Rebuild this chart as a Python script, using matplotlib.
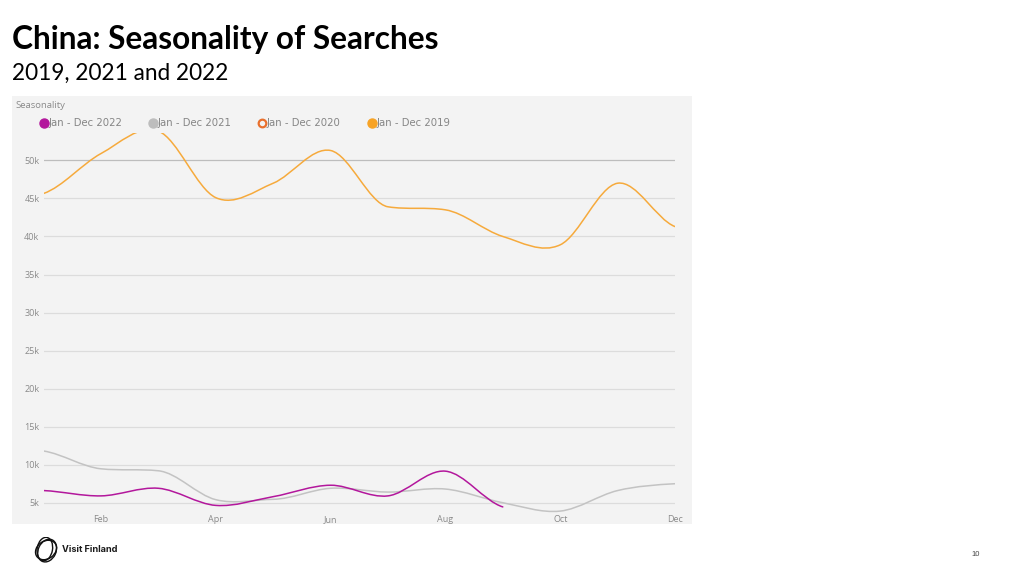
import matplotlib
matplotlib.use("Agg")
import matplotlib.pyplot as plt
from matplotlib.path import Path
from matplotlib.patches import PathPatch, Rectangle, Ellipse
from matplotlib.lines import Line2D

# ---------------- data ----------------
months = ["Jan", "Feb", "Mar", "Apr", "May", "Jun", "Jul", "Aug", "Sep", "Oct", "Nov", "Dec"]
x_tick_labels = ["Feb", "Apr", "Jun", "Aug", "Oct", "Dec"]
y_ticks = [5000, 10000, 15000, 20000, 25000, 30000, 35000, 40000, 45000, 50000]
y_tick_labels = ["5k", "10k", "15k", "20k", "25k", "30k", "35k", "40k", "45k", "50k"]

searches_2022 = [6600, 5900, 6900, 4650, 5800, 7300, 5900, 9150, 4450]
searches_2021 = [11800, 9460, 9200, 5400, 5450, 6900, 6400, 6800, 5000, 3900, 6600, 7500]
searches_2019 = [45650, 50900, 53850, 45100, 47000, 51300, 43900, 43500, 40000, 38900, 47000, 41300]

legend_labels = ["Jan - Dec 2022", "Jan - Dec 2021", "Jan - Dec 2020", "Jan - Dec 2019"]

title = "China: Seasonality of Searches"
subtitle = "2019, 2021 and 2022"
panel_title = "Seasonality"

# ---------------- style ----------------
W, H = 1024, 576
C_2022 = "#b3179c"
C_2021 = "#c3c3c3"
C_2020 = "#e9702d"
C_2019 = "#f6aa3c"
PANEL = "#f3f3f3"
TXT = "#8a8a8a"

fig = plt.figure(figsize=(W / 100, H / 100), dpi=100)
fig.patch.set_facecolor("white")


def fx(px):
    return px / W


def fy(py):
    return 1 - py / H


# panel background
fig.patches.append(Rectangle((fx(12), fy(524)), fx(692) - fx(12), fy(96) - fy(524),
                             transform=fig.transFigure, facecolor=PANEL, edgecolor="none", zorder=-5))

ax_left, ax_right, ax_top, ax_bottom = 43.6, 675, 133, 513
ax = fig.add_axes([fx(ax_left), fy(ax_bottom), fx(ax_right) - fx(ax_left), fy(ax_top) - fy(ax_bottom)])
ax.set_zorder(2)
ax.set_facecolor("none")
for s in ax.spines.values():
    s.set_visible(False)

ax.set_xlim(0, len(months) - 1)
ax.set_ylim(3650, 53600)

# gridlines
for v in y_ticks:
    col = "#bdbdbd" if v == y_ticks[-1] else "#dcdcdc"
    ax.axhline(v, color=col, lw=0.9, zorder=1)

ax.set_yticks(y_ticks)
ax.set_yticklabels(y_tick_labels)
ax.set_xticks([months.index(m) for m in x_tick_labels])
ax.set_xticklabels(x_tick_labels)
ax.tick_params(axis="both", length=0, labelsize=6.5, labelcolor=TXT)
ax.tick_params(axis="y", pad=3)
ax.tick_params(axis="x", pad=1.2)
for lab in ax.get_xticklabels() + ax.get_yticklabels():
    lab.set_fontfamily("Open Sans")


def spline_path(values):
    """Smooth curve through the points (cubic Beziers, Catmull-Rom tangents,
    limited inside monotone runs to avoid false bumps)."""
    n = len(values)
    tang = []
    for i in range(n):
        prev_v = values[i - 1] if i > 0 else values[i]
        next_v = values[i + 1] if i < n - 1 else values[i]
        m = (next_v - prev_v) / 2.0
        if 0 < i < n - 1:
            d0 = values[i] - prev_v
            d1 = next_v - values[i]
            if d0 * d1 > 0:  # monotone run
                lim = min(abs(d0), abs(d1)) * 3
                if abs(m) > lim:
                    m = lim if m > 0 else -lim
        tang.append(m)
    verts = [(0, values[0])]
    codes = [Path.MOVETO]
    for i in range(n - 1):
        c1 = (i + 1 / 3, values[i] + tang[i] / 3)
        c2 = (i + 1 - 1 / 3, values[i + 1] - tang[i + 1] / 3)
        verts += [c1, c2, (i + 1, values[i + 1])]
        codes += [Path.CURVE4] * 3
    return Path(verts, codes)


for vals, col, z in [(searches_2021, C_2021, 3), (searches_2022, C_2022, 4), (searches_2019, C_2019, 5)]:
    ax.add_patch(PathPatch(spline_path(vals), facecolor="none", edgecolor=col, lw=1.1, zorder=z,
                           capstyle="round", joinstyle="round"))

# panel title and legend
fig.text(fx(15), fy(105), panel_title, fontsize=6.8, color=TXT, family="Open Sans", va="center", ha="left")

leg_x = [44, 153, 262, 372]
leg_y = 123
marker_specs = [
    dict(marker="o", markersize=6.5, markerfacecolor=C_2022, markeredgecolor=C_2022),
    dict(marker="o", markersize=6.5, markerfacecolor="#bdbdbd", markeredgecolor="#bdbdbd"),
    dict(marker="o", markersize=5.5, markerfacecolor="none", markeredgecolor=C_2020, markeredgewidth=1.6),
    dict(marker="o", markersize=6.5, markerfacecolor="#f7a325", markeredgecolor="#f7a325"),
]
for lx, lab, ms in zip(leg_x, legend_labels, marker_specs):
    fig.add_artist(Line2D([fx(lx)], [fy(leg_y)], transform=fig.transFigure, linestyle="none", **ms))
    fig.text(fx(lx + 5), fy(leg_y), lab, fontsize=7.3, color="#858585", family="DejaVu Sans",
             va="center", ha="left")

# titles (fit to measured widths)
fig.canvas.draw()
renderer = fig.canvas.get_renderer()


def fit_text(px, py, s, target_w, size0, **kw):
    t = fig.text(fx(px), fy(py), s, fontsize=size0, va="center", ha="left", **kw)
    w = t.get_window_extent(renderer).width
    t.set_fontsize(size0 * target_w / w)
    return t


fit_text(12, 40, title, 427, 22, family="Lato", weight="bold", color="black")
fit_text(12, 73, subtitle, 217, 14, family="Lato", color="black")

# logo
lax = fig.add_axes([fx(33), fy(565), fx(26), fy(535) - fy(565)])
lax.set_xlim(-1.1, 1.1)
lax.set_ylim(-1.1, 1.1)
lax.set_aspect("equal")
lax.axis("off")
for wdt, hgt, ang, dx, dy in [(1.9, 1.5, 35, 0.0, 0.0), (1.5, 2.0, -25, 0.1, -0.05), (2.0, 1.3, 80, -0.1, 0.08)]:
    lax.add_patch(Ellipse((dx, dy), wdt, hgt, angle=ang, facecolor="none", edgecolor="#111111", lw=1.0))
fig.text(fx(62), fy(549), "Visit Finland", fontsize=6.6, weight="bold", family="Inter",
         color="#1a1a1a", va="center", ha="left")

fig.text(fx(976), fy(554), "10", fontsize=5.5, color="#444444", family="Liberation Sans",
         va="center", ha="center")

fig.savefig("out.png", dpi=100, facecolor="white")
